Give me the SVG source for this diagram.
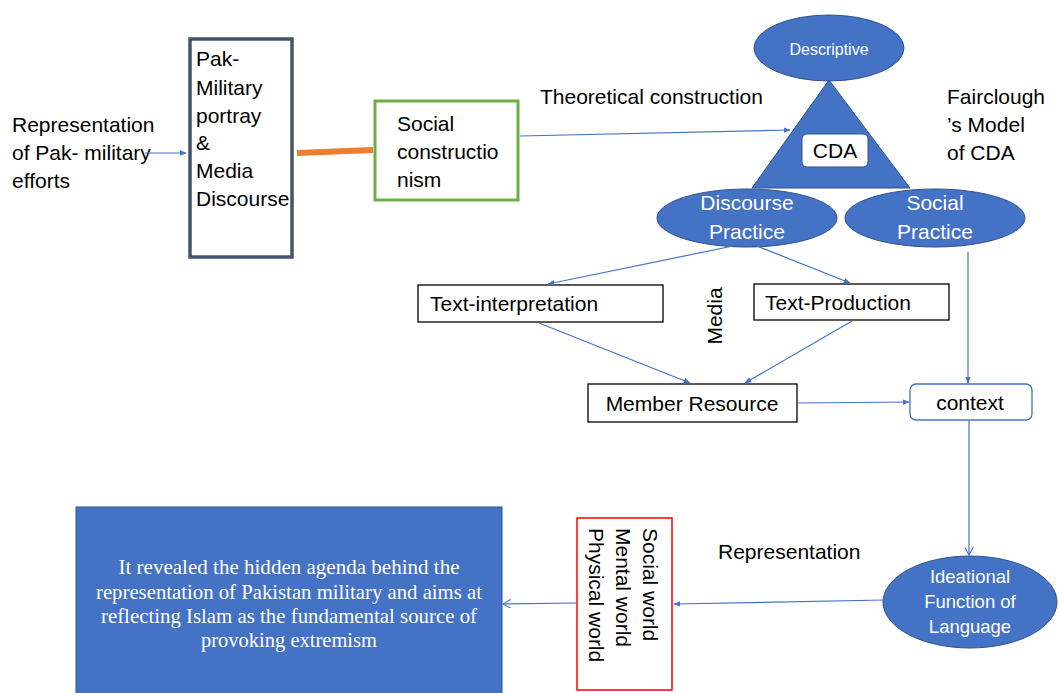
<svg xmlns="http://www.w3.org/2000/svg" width="1059" height="693" viewBox="0 0 1059 693">
<defs>
<marker id="ah" viewBox="0 0 10 10" refX="9" refY="5" markerWidth="7" markerHeight="7" orient="auto" markerUnits="userSpaceOnUse">
<path d="M0,1 L10,5 L0,9 Z" fill="#4472C4"/>
</marker>
<marker id="ao" viewBox="0 0 10 10" refX="9" refY="5" markerWidth="9" markerHeight="9" orient="auto" markerUnits="userSpaceOnUse">
<path d="M0,0 L9,5 L0,10" fill="none" stroke="#4472C4" stroke-width="1.2"/>
</marker>
<style>
.t{font-family:"Liberation Sans",Arial,sans-serif;font-size:21px;fill:#000}
.w{font-family:"Liberation Sans",Arial,sans-serif;fill:#fff}
.box{fill:#fff;stroke:#000;stroke-width:1.3}
.blue{fill:#4472C4;stroke:#2F528F;stroke-width:1}
.c{fill:none;stroke:#4472C4;stroke-width:1.2}
.serif{font-family:"Liberation Serif","Times New Roman",serif;font-size:21px;fill:#fff}
</style>
</defs>
<rect width="1059" height="693" fill="#fff"/>

<g id="label-representation-left">
<text class="t" x="12" y="132">Representation</text>
<text class="t" x="12" y="160">of Pak- military</text>
<text class="t" x="12" y="188">efforts</text>
</g>

<g id="node-pak-military">
<rect x="190" y="39" width="102" height="218" fill="#fff" stroke="#44546A" stroke-width="3.5"/>
<text class="t" x="196" y="66" font-size="20.5">Pak-</text>
<text class="t" x="196" y="95" font-size="20.5">Military</text>
<text class="t" x="196" y="123" font-size="20.5">portray</text>
<text class="t" x="196" y="150" font-size="20.5">&amp;</text>
<text class="t" x="196" y="178" font-size="20.5">Media</text>
<text class="t" x="196" y="206" font-size="20.5">Discourse</text>
</g>

<g id="node-social-constructionism">
<rect x="375" y="101" width="143" height="99" fill="#fff" stroke="#70AD47" stroke-width="3"/>
<text class="t" x="397" y="131">Social</text>
<text class="t" x="397" y="159">constructio</text>
<text class="t" x="397" y="187">nism</text>
</g>

<g id="label-theoretical">
<text class="t" x="540" y="104">Theoretical construction</text>
</g>

<g id="node-cda-triangle">
<polygon points="829,80 752,188 910,188" fill="#4472C4" stroke="#2F528F" stroke-width="1"/>
<rect x="802" y="134" width="66" height="33" rx="5" fill="#fff" stroke="#2F528F" stroke-width="1"/>
<text class="t" x="835" y="158" text-anchor="middle">CDA</text>
</g>

<g id="node-descriptive">
<ellipse cx="829" cy="48" rx="75" ry="33" class="blue"/>
<text class="w" x="829" y="55" font-size="16" text-anchor="middle">Descriptive</text>
</g>

<g id="label-fairclough">
<text class="t" x="947" y="104">Fairclough</text>
<text class="t" x="947" y="132">’s Model</text>
<text class="t" x="947" y="160">of CDA</text>
</g>

<g id="node-discourse-practice">
<ellipse cx="747" cy="218" rx="90" ry="29" class="blue"/>
<text class="w" x="747" y="210" font-size="21" text-anchor="middle">Discourse</text>
<text class="w" x="747" y="239" font-size="21" text-anchor="middle">Practice</text>
</g>

<g id="node-social-practice">
<ellipse cx="935" cy="218" rx="90" ry="29" class="blue"/>
<text class="w" x="935" y="210" font-size="21" text-anchor="middle">Social</text>
<text class="w" x="935" y="239" font-size="21" text-anchor="middle">Practice</text>
</g>

<g id="node-text-interpretation">
<rect x="418" y="285" width="245" height="37" class="box"/>
<text class="t" x="430" y="311">Text-interpretation</text>
</g>

<g id="label-media">
<text class="t" x="0" y="0" transform="translate(722,316) rotate(-90)" text-anchor="middle">Media</text>
</g>

<g id="node-text-production">
<rect x="754" y="284" width="195" height="36" class="box"/>
<text class="t" x="765" y="310">Text-Production</text>
</g>

<g id="node-member-resource">
<rect x="588" y="384" width="209" height="38" class="box"/>
<text class="t" x="692" y="411" text-anchor="middle">Member Resource</text>
</g>

<g id="node-context">
<rect x="910" y="384" width="122" height="36" rx="6" fill="#fff" stroke="#4472C4" stroke-width="1.3"/>
<text class="t" x="970" y="410" text-anchor="middle">context</text>
</g>

<g id="node-ideational">
<ellipse cx="970" cy="602" rx="87" ry="46" class="blue"/>
<text class="w" x="970" y="583" font-size="18.5" text-anchor="middle">Ideational</text>
<text class="w" x="970" y="608" font-size="18.5" text-anchor="middle">Function of</text>
<text class="w" x="970" y="633" font-size="18.5" text-anchor="middle">Language</text>
</g>

<g id="label-representation">
<text class="t" x="718" y="559">Representation</text>
</g>

<g id="node-worlds">
<rect x="577" y="518" width="95" height="172" fill="#fff" stroke="#FF0000" stroke-width="1.5"/>
<g transform="translate(643,528) rotate(90)">
<text class="t" x="0" y="0">Social world</text>
<text class="t" x="0" y="27">Mental world</text>
<text class="t" x="0" y="54">Physical world</text>
</g>
</g>

<g id="node-conclusion">
<rect x="76" y="507" width="426" height="190" class="blue"/>
<text class="serif" x="289" y="574" text-anchor="middle" textLength="341" lengthAdjust="spacingAndGlyphs">It  revealed the hidden agenda behind the</text>
<text class="serif" x="289" y="599" text-anchor="middle" textLength="386" lengthAdjust="spacingAndGlyphs">representation of Pakistan military and aims at</text>
<text class="serif" x="289" y="623" text-anchor="middle" textLength="376" lengthAdjust="spacingAndGlyphs">reflecting  Islam as the fundamental source of</text>
<text class="serif" x="289" y="647" text-anchor="middle" textLength="176" lengthAdjust="spacingAndGlyphs">provoking extremism</text>
</g>

<g id="connectors">
<line x1="145" y1="153" x2="186" y2="153" class="c" marker-end="url(#ah)"/>
<line x1="297" y1="153" x2="373" y2="150" stroke="#ED7D31" stroke-width="6"/>
<line x1="520" y1="136" x2="790" y2="130" class="c" marker-end="url(#ah)"/>
<line x1="733" y1="246" x2="548" y2="284" class="c" marker-end="url(#ah)"/>
<line x1="757" y1="246" x2="850" y2="283" class="c" marker-end="url(#ah)"/>
<line x1="539" y1="323" x2="690" y2="383" class="c" marker-end="url(#ah)"/>
<line x1="852" y1="321" x2="745" y2="383" class="c" marker-end="url(#ah)"/>
<line x1="968" y1="252" x2="968" y2="383" class="c" marker-end="url(#ah)"/>
<line x1="797" y1="403" x2="909" y2="402" class="c" marker-end="url(#ah)"/>
<line x1="969" y1="421" x2="969" y2="555" class="c" marker-end="url(#ao)"/>
<line x1="884" y1="600" x2="674" y2="604" class="c" marker-end="url(#ah)"/>
<line x1="577" y1="603" x2="503" y2="604" class="c" marker-end="url(#ao)"/>
</g>
</svg>
